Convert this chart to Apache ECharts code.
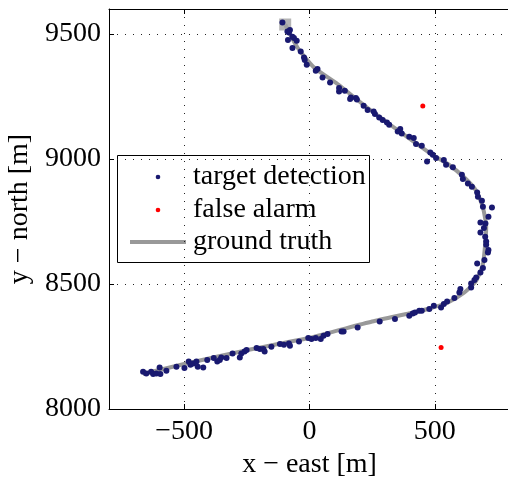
<!DOCTYPE html>
<html>
<head>
<meta charset="utf-8">
<script src="https://cdn.jsdelivr.net/npm/echarts@6/dist/echarts.min.js"></script>
<style>html,body{margin:0;padding:0;background:#fff;}#c{width:508px;height:479px;}</style>
</head>
<body>
<div id="c"></div>
<script>
const xTicks = [-500, 0, 500];
const yTicks = [8000, 8500, 9000, 9500];
const xRange = [-800, 800];
const yRange = [8000, 9600];

const groundTruth = [[-665,8140],[-500,8180],[-250,8235],[0,8285],[250,8350],[400,8383],[472,8400],[552,8426],[618,8466],[665,8513],[692,8580],[701,8660],[705,8726],[692,8806],[665,8873],[618,8926],[552,8980],[485,9020],[432,9058],[325,9135],[218,9215],[112,9300],[18,9366],[-48,9446],[-97,9538]];
const trackEnd = [[-97, 9538]];

const detections = [[-664,8149],[-651,8142],[-632,8149],[-624,8140],[-611,8142],[-595,8140],[-598,8166],[-571,8153],[-531,8169],[-499,8164],[-482,8190],[-475,8177],[-464,8182],[-451,8190],[-446,8169],[-424,8166],[-408,8196],[-382,8204],[-368,8190],[-358,8196],[-352,8206],[-331,8204],[-307,8222],[-278,8206],[-272,8222],[-259,8230],[-251,8236],[-211,8244],[-198,8240],[-184,8240],[-179,8230],[-152,8249],[-118,8260],[-102,8257],[-82,8262],[-78,8253],[-42,8270],
[-5,8284],[8,8280],[25,8284],[45,8280],[56,8293],[72,8300],[128,8310],[136,8310],[192,8326],[280,8350],[341,8360],[398,8373],[412,8382],[421,8386],[438,8393],[448,8393],[478,8400],[496,8413],[525,8406],[536,8420],
[549,8430],[578,8444],[598,8466],[602,8480],[645,8486],[645,8502],[658,8516],[665,8526],[682,8546],[692,8564],[698,8596],[669,8582],[712,8626],[714,8636],[705,8657],[705,8670],[701,8689],[682,8706],[696,8724],[702,8742],[682,8746],[714,8769],[728,8806],[692,8809],[688,8833],[672,8849],[669,8866],[648,8889],[632,8902],[612,8920],[608,8937],[572,8967],[545,8977],[536,8996],[505,9004],[469,8990],[492,9017],[482,9026],[448,9053],[425,9060],[416,9084],[398,9089],[368,9102],[362,9120],[352,9110],
[318,9137],[309,9146],[292,9156],[278,9166],[261,9180],[256,9190],[232,9196],[216,9213],[189,9238],[185,9244],[162,9240],[165,9246],[141,9273],[118,9270],[118,9284],[82,9306],[52,9326],[32,9360],[25,9353],[-11,9377],[-19,9396],[-22,9406],[-35,9430],[-68,9444],[-51,9473],[-62,9484],[-68,9489],[-86,9476],[-78,9516],[-82,9506],[-88,9510],[-108,9546]];

const falseAlarms = [[452,9212],[525,8246]];

const legendLabels = ['target detection', 'false alarm', 'ground truth'];

const FONT = 'Liberation Serif';
const fmt = v => String(v).replace('-', '\u2212');
const gridLine = {show: true, lineStyle: {color: '#222', width: 1, type: [1, 7]}};

function mkX(pos, labels) {
  return {
    type: 'value', position: pos, min: xRange[0], max: xRange[1],
    name: labels ? 'x \u2212 east [m]' : '', nameLocation: 'middle', nameGap: 39,
    nameTextStyle: {fontFamily: FONT, fontSize: 28, color: '#000'},
    axisLine: {show: true, onZero: false, lineStyle: {color: '#000', width: 1}},
    axisTick: {show: true, inside: true, length: 5, customValues: xTicks, lineStyle: {color: '#000'}},
    axisLabel: {show: labels, customValues: xTicks, formatter: fmt, margin: 9, fontFamily: FONT, fontSize: 28, color: '#000'},
    splitLine: labels ? gridLine : {show: false}
  };
}
const yAxisLeft = {
  type: 'value', position: 'left', min: yRange[0], max: yRange[1],
  name: 'y \u2212 north [m]', nameLocation: 'middle', nameGap: 67, nameRotate: 90,
  nameTextStyle: {fontFamily: FONT, fontSize: 28, color: '#000'},
  axisLine: {show: true, onZero: false, lineStyle: {color: '#000', width: 1}},
  axisTick: {show: true, inside: true, length: 5, customValues: yTicks, lineStyle: {color: '#000'}},
  axisLabel: {show: true, customValues: yTicks, formatter: fmt, margin: 8, fontFamily: FONT, fontSize: 28, color: '#000'},
  splitLine: gridLine
};

const chart = echarts.init(document.getElementById('c'), null, {renderer: 'canvas'});
const option = {
  animation: false,
  backgroundColor: '#fff',
  grid: {left: 109, top: 9, width: 401, height: 400, containLabel: false, outerBoundsMode: 'none'},
  xAxis: [mkX('bottom', true), mkX('top', false)],
  yAxis: [yAxisLeft],
  series: [
    {name: legendLabels[2], type: 'line', data: groundTruth, showSymbol: false, smooth: 0.2,
     lineStyle: {color: '#999999', width: 4}, z: 2},
    {type: 'scatter', data: trackEnd, symbol: 'rect', symbolSize: 12,
     itemStyle: {color: '#a3a3a3'}, z: 2},
    {name: legendLabels[0], type: 'scatter', data: detections, symbolSize: 6,
     itemStyle: {color: '#191970', opacity: 1}, z: 3},
    {name: legendLabels[1], type: 'scatter', data: falseAlarms, symbolSize: 5,
     itemStyle: {color: '#ff0000', opacity: 1}, z: 4}
  ],
  graphic: [
    {type: 'group', left: 117, top: 155, z: 100, children: [
      {type: 'rect', shape: {x: 0.5, y: 0.5, width: 252, height: 107}, style: {fill: '#fff', stroke: '#000', lineWidth: 1}},
      {type: 'circle', shape: {cx: 41, cy: 22, r: 2.3}, style: {fill: '#191970'}},
      {type: 'circle', shape: {cx: 41, cy: 55, r: 2.3}, style: {fill: '#ff0000'}},
      {type: 'line', shape: {x1: 13, y1: 87, x2: 69, y2: 87}, style: {stroke: '#999999', lineWidth: 4}},
      {type: 'text', x: 76, y: 22, style: {text: legendLabels[0], font: '28px "Liberation Serif"', fill: '#000', verticalAlign: 'middle'}},
      {type: 'text', x: 76, y: 55, style: {text: legendLabels[1], font: '28px "Liberation Serif"', fill: '#000', verticalAlign: 'middle'}},
      {type: 'text', x: 76, y: 87, style: {text: legendLabels[2], font: '28px "Liberation Serif"', fill: '#000', verticalAlign: 'middle'}}
    ]}
  ]
};
chart.setOption(option);
</script>
</body>
</html>
